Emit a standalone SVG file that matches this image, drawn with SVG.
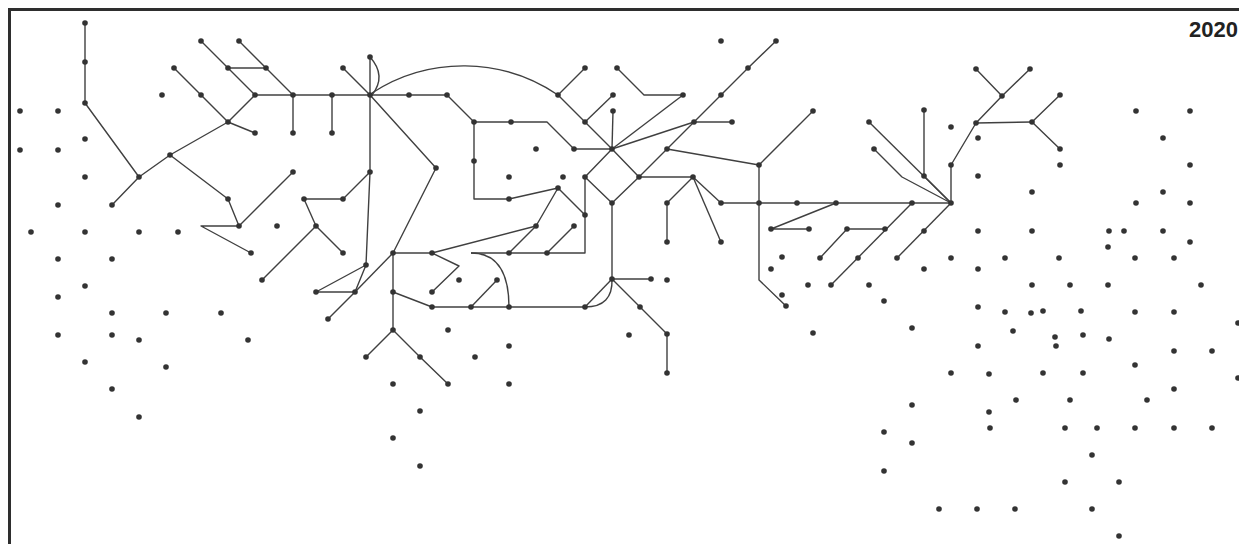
<svg xmlns="http://www.w3.org/2000/svg" width="1239" height="544" viewBox="0 0 1239 544">
<style>
.e{fill:none;stroke:#404040;stroke-width:1.4;stroke-linejoin:round}
.nodes circle{fill:#333}
.frame{fill:none;stroke:#2e2e2e;stroke-width:3}
.yr{font-family:"Liberation Sans",Arial,sans-serif;font-weight:bold;font-size:22px;fill:#222}
</style>
<rect width="1239" height="544" fill="#fff"/>
<path class="frame" d="M9.5,544 V9.5 H1239"/>
<text class="yr" x="1238" y="37" text-anchor="end">2020</text>
<g id="connectors">
<polyline class="e" points="85,23 85,62 85,103 139,177"/>
<polyline class="e" points="112,205 139,177 170,155 228,122"/>
<polyline class="e" points="228,122 201,95 174,68"/>
<polyline class="e" points="228,122 255,133"/>
<polyline class="e" points="228,122 255,95"/>
<polyline class="e" points="201,41 228,68 255,95"/>
<polyline class="e" points="228,68 266,68"/>
<polyline class="e" points="239,41 266,68 293,95"/>
<polyline class="e" points="255,95 293,95 332,95 370,95 409,95 447,95"/>
<polyline class="e" points="293,95 293,133"/>
<polyline class="e" points="332,95 332,133"/>
<polyline class="e" points="170,155 228,199 239,226 293,172"/>
<polyline class="e" points="239,226 201,226 251,253"/>
<polyline class="e" points="304,199 316,226"/>
<polyline class="e" points="304,199 343,199 370,172"/>
<polyline class="e" points="316,226 343,253"/>
<polyline class="e" points="316,226 262,280"/>
<polyline class="e" points="343,68 370,95"/>
<polyline class="e" points="370,57 370,95 370,172 366,265"/>
<path class="e" d="M370,57 Q387,76 372,95"/>
<polyline class="e" points="370,95 436,168 393,253"/>
<path class="e" d="M372,93 A168,168 0 0 1 558,95"/>
<polyline class="e" points="366,265 316,292 355,292 366,265"/>
<polyline class="e" points="355,292 393,253"/>
<polyline class="e" points="355,292 328,319"/>
<polyline class="e" points="447,95 474,122 511,122 547,122 574,149 612,149"/>
<polyline class="e" points="474,122 474,161 474,199 509,199 558,188"/>
<polyline class="e" points="558,188 585,215"/>
<polyline class="e" points="558,188 536,226 432,253"/>
<polyline class="e" points="393,253 432,253"/>
<polyline class="e" points="536,226 509,253"/>
<polyline class="e" points="432,253 459,266 432,292"/>
<polyline class="e" points="471,253 509,253 547,253 585,253 585,177"/>
<polyline class="e" points="547,253 574,226"/>
<path class="e" d="M471,253 Q509,253 509,307"/>
<polyline class="e" points="393,253 393,292 393,330"/>
<polyline class="e" points="393,292 432,307 471,307 509,307 585,307"/>
<polyline class="e" points="471,307 497,280"/>
<polyline class="e" points="585,307 612,279"/>
<path class="e" d="M585,307 Q613,307 612,279"/>
<polyline class="e" points="393,330 366,357"/>
<polyline class="e" points="393,330 420,357 448,384"/>
<polyline class="e" points="585,68 558,95 585,122 612,149"/>
<polyline class="e" points="585,122 613,95"/>
<polyline class="e" points="613,111 612,149"/>
<polyline class="e" points="612,149 639,177 612,203 585,177 612,149"/>
<polyline class="e" points="612,203 612,279 651,279"/>
<polyline class="e" points="612,279 640,307 667,334 667,373"/>
<polyline class="e" points="617,68 644,95 683,95"/>
<polyline class="e" points="612,149 683,95"/>
<polyline class="e" points="612,149 694,122"/>
<polyline class="e" points="776,41 748,68 721,95 694,122 667,149 639,177"/>
<polyline class="e" points="694,122 732,122"/>
<polyline class="e" points="667,149 759,165 813,111"/>
<polyline class="e" points="759,165 759,203 759,280 786,306"/>
<polyline class="e" points="639,177 693,177"/>
<polyline class="e" points="693,177 667,203 667,242"/>
<polyline class="e" points="693,177 721,203"/>
<polyline class="e" points="693,177 721,242"/>
<polyline class="e" points="721,203 951,203"/>
<polyline class="e" points="836,203 771,229 809,229"/>
<polyline class="e" points="912,203 831,285"/>
<polyline class="e" points="820,258 847,229 885,229"/>
<polyline class="e" points="951,203 897,258"/>
<polyline class="e" points="869,122 951,203"/>
<polyline class="e" points="874,149 902,177 951,203"/>
<polyline class="e" points="924,110 924,176 951,203"/>
<polyline class="e" points="951,203 951,165 976,123 1002,96"/>
<polyline class="e" points="976,69 1002,96 1030,69"/>
<polyline class="e" points="976,123 1032,122"/>
<polyline class="e" points="1060,95 1032,122 1060,149"/>
</g>
<g class="nodes">
<g id="n1"><circle cx="85" cy="23" r="2.8"/></g>
<g id="n2"><circle cx="85" cy="62" r="2.8"/></g>
<g id="n3"><circle cx="85" cy="103" r="2.8"/></g>
<g id="n4"><circle cx="20" cy="111" r="2.8"/></g>
<g id="n5"><circle cx="58" cy="111" r="2.8"/></g>
<g id="n6"><circle cx="20" cy="150" r="2.8"/></g>
<g id="n7"><circle cx="58" cy="150" r="2.8"/></g>
<g id="n8"><circle cx="85" cy="139" r="2.8"/></g>
<g id="n9"><circle cx="85" cy="177" r="2.8"/></g>
<g id="n10"><circle cx="139" cy="177" r="2.8"/></g>
<g id="n11"><circle cx="170" cy="155" r="2.8"/></g>
<g id="n12"><circle cx="112" cy="205" r="2.8"/></g>
<g id="n13"><circle cx="58" cy="205" r="2.8"/></g>
<g id="n14"><circle cx="31" cy="232" r="2.8"/></g>
<g id="n15"><circle cx="85" cy="232" r="2.8"/></g>
<g id="n16"><circle cx="139" cy="232" r="2.8"/></g>
<g id="n17"><circle cx="178" cy="232" r="2.8"/></g>
<g id="n18"><circle cx="58" cy="259" r="2.8"/></g>
<g id="n19"><circle cx="112" cy="259" r="2.8"/></g>
<g id="n20"><circle cx="85" cy="286" r="2.8"/></g>
<g id="n21"><circle cx="58" cy="297" r="2.8"/></g>
<g id="n22"><circle cx="112" cy="313" r="2.8"/></g>
<g id="n23"><circle cx="166" cy="313" r="2.8"/></g>
<g id="n24"><circle cx="221" cy="313" r="2.8"/></g>
<g id="n25"><circle cx="58" cy="335" r="2.8"/></g>
<g id="n26"><circle cx="112" cy="335" r="2.8"/></g>
<g id="n27"><circle cx="139" cy="340" r="2.8"/></g>
<g id="n28"><circle cx="248" cy="340" r="2.8"/></g>
<g id="n29"><circle cx="85" cy="362" r="2.8"/></g>
<g id="n30"><circle cx="166" cy="367" r="2.8"/></g>
<g id="n31"><circle cx="112" cy="389" r="2.8"/></g>
<g id="n32"><circle cx="139" cy="417" r="2.8"/></g>
<g id="n33"><circle cx="162" cy="95" r="2.8"/></g>
<g id="n34"><circle cx="174" cy="68" r="2.8"/></g>
<g id="n35"><circle cx="201" cy="95" r="2.8"/></g>
<g id="n36"><circle cx="228" cy="122" r="2.8"/></g>
<g id="n37"><circle cx="255" cy="133" r="2.8"/></g>
<g id="n38"><circle cx="201" cy="41" r="2.8"/></g>
<g id="n39"><circle cx="228" cy="68" r="2.8"/></g>
<g id="n40"><circle cx="266" cy="68" r="2.8"/></g>
<g id="n41"><circle cx="239" cy="41" r="2.8"/></g>
<g id="n42"><circle cx="255" cy="95" r="2.8"/></g>
<g id="n43"><circle cx="293" cy="95" r="2.8"/></g>
<g id="n44"><circle cx="293" cy="133" r="2.8"/></g>
<g id="n45"><circle cx="293" cy="172" r="2.8"/></g>
<g id="n46"><circle cx="228" cy="199" r="2.8"/></g>
<g id="n47"><circle cx="239" cy="226" r="2.8"/></g>
<g id="n48"><circle cx="251" cy="253" r="2.8"/></g>
<g id="n49"><circle cx="277" cy="226" r="2.8"/></g>
<g id="n50"><circle cx="262" cy="280" r="2.8"/></g>
<g id="n51"><circle cx="304" cy="199" r="2.8"/></g>
<g id="n52"><circle cx="316" cy="226" r="2.8"/></g>
<g id="n53"><circle cx="343" cy="253" r="2.8"/></g>
<g id="n54"><circle cx="343" cy="199" r="2.8"/></g>
<g id="n55"><circle cx="370" cy="172" r="2.8"/></g>
<g id="n56"><circle cx="316" cy="292" r="2.8"/></g>
<g id="n57"><circle cx="355" cy="292" r="2.8"/></g>
<g id="n58"><circle cx="366" cy="265" r="2.8"/></g>
<g id="n59"><circle cx="328" cy="319" r="2.8"/></g>
<g id="n60"><circle cx="370" cy="57" r="2.8"/></g>
<g id="n61"><circle cx="343" cy="68" r="2.8"/></g>
<g id="n62"><circle cx="370" cy="95" r="2.8"/></g>
<g id="n63"><circle cx="332" cy="95" r="2.8"/></g>
<g id="n64"><circle cx="332" cy="133" r="2.8"/></g>
<g id="n65"><circle cx="409" cy="95" r="2.8"/></g>
<g id="n66"><circle cx="447" cy="95" r="2.8"/></g>
<g id="n67"><circle cx="474" cy="122" r="2.8"/></g>
<g id="n68"><circle cx="511" cy="122" r="2.8"/></g>
<g id="n69"><circle cx="474" cy="161" r="2.8"/></g>
<g id="n70"><circle cx="436" cy="168" r="2.8"/></g>
<g id="n71"><circle cx="393" cy="253" r="2.8"/></g>
<g id="n72"><circle cx="432" cy="253" r="2.8"/></g>
<g id="n73"><circle cx="432" cy="292" r="2.8"/></g>
<g id="n74"><circle cx="393" cy="292" r="2.8"/></g>
<g id="n75"><circle cx="393" cy="330" r="2.8"/></g>
<g id="n76"><circle cx="366" cy="357" r="2.8"/></g>
<g id="n77"><circle cx="420" cy="357" r="2.8"/></g>
<g id="n78"><circle cx="448" cy="384" r="2.8"/></g>
<g id="n79"><circle cx="432" cy="307" r="2.8"/></g>
<g id="n80"><circle cx="471" cy="307" r="2.8"/></g>
<g id="n81"><circle cx="509" cy="307" r="2.8"/></g>
<g id="n82"><circle cx="585" cy="307" r="2.8"/></g>
<g id="n83"><circle cx="497" cy="280" r="2.8"/></g>
<g id="n84"><circle cx="459" cy="280" r="2.8"/></g>
<g id="n85"><circle cx="509" cy="253" r="2.8"/></g>
<g id="n86"><circle cx="547" cy="253" r="2.8"/></g>
<g id="n87"><circle cx="536" cy="226" r="2.8"/></g>
<g id="n88"><circle cx="574" cy="226" r="2.8"/></g>
<g id="n89"><circle cx="509" cy="199" r="2.8"/></g>
<g id="n90"><circle cx="558" cy="188" r="2.8"/></g>
<g id="n91"><circle cx="585" cy="215" r="2.8"/></g>
<g id="n92"><circle cx="509" cy="177" r="2.8"/></g>
<g id="n93"><circle cx="563" cy="177" r="2.8"/></g>
<g id="n94"><circle cx="536" cy="149" r="2.8"/></g>
<g id="n95"><circle cx="574" cy="149" r="2.8"/></g>
<g id="n96"><circle cx="612" cy="149" r="2.8"/></g>
<g id="n97"><circle cx="585" cy="122" r="2.8"/></g>
<g id="n98"><circle cx="558" cy="95" r="2.8"/></g>
<g id="n99"><circle cx="585" cy="68" r="2.8"/></g>
<g id="n100"><circle cx="613" cy="95" r="2.8"/></g>
<g id="n101"><circle cx="613" cy="111" r="2.8"/></g>
<g id="n102"><circle cx="585" cy="177" r="2.8"/></g>
<g id="n103"><circle cx="639" cy="177" r="2.8"/></g>
<g id="n104"><circle cx="612" cy="203" r="2.8"/></g>
<g id="n105"><circle cx="612" cy="279" r="2.8"/></g>
<g id="n106"><circle cx="651" cy="279" r="2.8"/></g>
<g id="n107"><circle cx="640" cy="307" r="2.8"/></g>
<g id="n108"><circle cx="667" cy="334" r="2.8"/></g>
<g id="n109"><circle cx="667" cy="373" r="2.8"/></g>
<g id="n110"><circle cx="629" cy="335" r="2.8"/></g>
<g id="n111"><circle cx="667" cy="280" r="2.8"/></g>
<g id="n112"><circle cx="448" cy="330" r="2.8"/></g>
<g id="n113"><circle cx="509" cy="346" r="2.8"/></g>
<g id="n114"><circle cx="475" cy="357" r="2.8"/></g>
<g id="n115"><circle cx="393" cy="384" r="2.8"/></g>
<g id="n116"><circle cx="509" cy="384" r="2.8"/></g>
<g id="n117"><circle cx="420" cy="411" r="2.8"/></g>
<g id="n118"><circle cx="393" cy="438" r="2.8"/></g>
<g id="n119"><circle cx="420" cy="466" r="2.8"/></g>
<g id="n120"><circle cx="617" cy="68" r="2.8"/></g>
<g id="n121"><circle cx="683" cy="95" r="2.8"/></g>
<g id="n122"><circle cx="721" cy="41" r="2.8"/></g>
<g id="n123"><circle cx="776" cy="41" r="2.8"/></g>
<g id="n124"><circle cx="748" cy="68" r="2.8"/></g>
<g id="n125"><circle cx="721" cy="95" r="2.8"/></g>
<g id="n126"><circle cx="694" cy="122" r="2.8"/></g>
<g id="n127"><circle cx="732" cy="122" r="2.8"/></g>
<g id="n128"><circle cx="667" cy="149" r="2.8"/></g>
<g id="n129"><circle cx="759" cy="165" r="2.8"/></g>
<g id="n130"><circle cx="813" cy="111" r="2.8"/></g>
<g id="n131"><circle cx="693" cy="177" r="2.8"/></g>
<g id="n132"><circle cx="667" cy="203" r="2.8"/></g>
<g id="n133"><circle cx="667" cy="242" r="2.8"/></g>
<g id="n134"><circle cx="721" cy="203" r="2.8"/></g>
<g id="n135"><circle cx="721" cy="242" r="2.8"/></g>
<g id="n136"><circle cx="759" cy="203" r="2.8"/></g>
<g id="n137"><circle cx="797" cy="203" r="2.8"/></g>
<g id="n138"><circle cx="836" cy="203" r="2.8"/></g>
<g id="n139"><circle cx="912" cy="203" r="2.8"/></g>
<g id="n140"><circle cx="771" cy="229" r="2.8"/></g>
<g id="n141"><circle cx="809" cy="229" r="2.8"/></g>
<g id="n142"><circle cx="847" cy="229" r="2.8"/></g>
<g id="n143"><circle cx="885" cy="229" r="2.8"/></g>
<g id="n144"><circle cx="782" cy="257" r="2.8"/></g>
<g id="n145"><circle cx="820" cy="258" r="2.8"/></g>
<g id="n146"><circle cx="858" cy="258" r="2.8"/></g>
<g id="n147"><circle cx="897" cy="258" r="2.8"/></g>
<g id="n148"><circle cx="771" cy="269" r="2.8"/></g>
<g id="n149"><circle cx="808" cy="285" r="2.8"/></g>
<g id="n150"><circle cx="831" cy="285" r="2.8"/></g>
<g id="n151"><circle cx="869" cy="285" r="2.8"/></g>
<g id="n152"><circle cx="782" cy="295" r="2.8"/></g>
<g id="n153"><circle cx="786" cy="306" r="2.8"/></g>
<g id="n154"><circle cx="884" cy="301" r="2.8"/></g>
<g id="n155"><circle cx="813" cy="333" r="2.8"/></g>
<g id="n156"><circle cx="912" cy="328" r="2.8"/></g>
<g id="n157"><circle cx="912" cy="405" r="2.8"/></g>
<g id="n158"><circle cx="884" cy="432" r="2.8"/></g>
<g id="n159"><circle cx="912" cy="443" r="2.8"/></g>
<g id="n160"><circle cx="884" cy="471" r="2.8"/></g>
<g id="n161"><circle cx="869" cy="122" r="2.8"/></g>
<g id="n162"><circle cx="874" cy="149" r="2.8"/></g>
<g id="n163"><circle cx="951" cy="203" r="2.8"/></g>
<g id="n164"><circle cx="924" cy="110" r="2.8"/></g>
<g id="n165"><circle cx="924" cy="176" r="2.8"/></g>
<g id="n166"><circle cx="951" cy="165" r="2.8"/></g>
<g id="n167"><circle cx="976" cy="123" r="2.8"/></g>
<g id="n168"><circle cx="1002" cy="96" r="2.8"/></g>
<g id="n169"><circle cx="976" cy="69" r="2.8"/></g>
<g id="n170"><circle cx="1030" cy="69" r="2.8"/></g>
<g id="n171"><circle cx="1032" cy="122" r="2.8"/></g>
<g id="n172"><circle cx="1060" cy="95" r="2.8"/></g>
<g id="n173"><circle cx="1060" cy="149" r="2.8"/></g>
<g id="n174"><circle cx="951" cy="127" r="2.8"/></g>
<g id="n175"><circle cx="978" cy="138" r="2.8"/></g>
<g id="n176"><circle cx="1060" cy="165" r="2.8"/></g>
<g id="n177"><circle cx="978" cy="176" r="2.8"/></g>
<g id="n178"><circle cx="1032" cy="192" r="2.8"/></g>
<g id="n179"><circle cx="1136" cy="111" r="2.8"/></g>
<g id="n180"><circle cx="1190" cy="111" r="2.8"/></g>
<g id="n181"><circle cx="1163" cy="138" r="2.8"/></g>
<g id="n182"><circle cx="1190" cy="165" r="2.8"/></g>
<g id="n183"><circle cx="1163" cy="192" r="2.8"/></g>
<g id="n184"><circle cx="1136" cy="203" r="2.8"/></g>
<g id="n185"><circle cx="1190" cy="203" r="2.8"/></g>
<g id="n186"><circle cx="924" cy="231" r="2.8"/></g>
<g id="n187"><circle cx="978" cy="231" r="2.8"/></g>
<g id="n188"><circle cx="1032" cy="231" r="2.8"/></g>
<g id="n189"><circle cx="1109" cy="231" r="2.8"/></g>
<g id="n190"><circle cx="1124" cy="231" r="2.8"/></g>
<g id="n191"><circle cx="1163" cy="231" r="2.8"/></g>
<g id="n192"><circle cx="1108" cy="247" r="2.8"/></g>
<g id="n193"><circle cx="1190" cy="242" r="2.8"/></g>
<g id="n194"><circle cx="951" cy="258" r="2.8"/></g>
<g id="n195"><circle cx="1005" cy="258" r="2.8"/></g>
<g id="n196"><circle cx="1059" cy="258" r="2.8"/></g>
<g id="n197"><circle cx="1135" cy="258" r="2.8"/></g>
<g id="n198"><circle cx="1174" cy="258" r="2.8"/></g>
<g id="n199"><circle cx="924" cy="269" r="2.8"/></g>
<g id="n200"><circle cx="978" cy="269" r="2.8"/></g>
<g id="n201"><circle cx="1032" cy="285" r="2.8"/></g>
<g id="n202"><circle cx="1070" cy="285" r="2.8"/></g>
<g id="n203"><circle cx="1108" cy="285" r="2.8"/></g>
<g id="n204"><circle cx="1201" cy="285" r="2.8"/></g>
<g id="n205"><circle cx="978" cy="307" r="2.8"/></g>
<g id="n206"><circle cx="1005" cy="312" r="2.8"/></g>
<g id="n207"><circle cx="1031" cy="313" r="2.8"/></g>
<g id="n208"><circle cx="1043" cy="311" r="2.8"/></g>
<g id="n209"><circle cx="1081" cy="311" r="2.8"/></g>
<g id="n210"><circle cx="1135" cy="312" r="2.8"/></g>
<g id="n211"><circle cx="1174" cy="312" r="2.8"/></g>
<g id="n212"><circle cx="1238" cy="323" r="2.8"/></g>
<g id="n213"><circle cx="1013" cy="331" r="2.8"/></g>
<g id="n214"><circle cx="1055" cy="337" r="2.8"/></g>
<g id="n215"><circle cx="1083" cy="335" r="2.8"/></g>
<g id="n216"><circle cx="1056" cy="346" r="2.8"/></g>
<g id="n217"><circle cx="1109" cy="339" r="2.8"/></g>
<g id="n218"><circle cx="978" cy="346" r="2.8"/></g>
<g id="n219"><circle cx="1174" cy="351" r="2.8"/></g>
<g id="n220"><circle cx="1212" cy="351" r="2.8"/></g>
<g id="n221"><circle cx="1135" cy="365" r="2.8"/></g>
<g id="n222"><circle cx="951" cy="373" r="2.8"/></g>
<g id="n223"><circle cx="989" cy="374" r="2.8"/></g>
<g id="n224"><circle cx="1043" cy="373" r="2.8"/></g>
<g id="n225"><circle cx="1083" cy="373" r="2.8"/></g>
<g id="n226"><circle cx="1238" cy="378" r="2.8"/></g>
<g id="n227"><circle cx="1174" cy="389" r="2.8"/></g>
<g id="n228"><circle cx="1016" cy="400" r="2.8"/></g>
<g id="n229"><circle cx="1070" cy="400" r="2.8"/></g>
<g id="n230"><circle cx="1147" cy="400" r="2.8"/></g>
<g id="n231"><circle cx="989" cy="412" r="2.8"/></g>
<g id="n232"><circle cx="990" cy="428" r="2.8"/></g>
<g id="n233"><circle cx="1065" cy="428" r="2.8"/></g>
<g id="n234"><circle cx="1097" cy="428" r="2.8"/></g>
<g id="n235"><circle cx="1135" cy="428" r="2.8"/></g>
<g id="n236"><circle cx="1174" cy="428" r="2.8"/></g>
<g id="n237"><circle cx="1212" cy="428" r="2.8"/></g>
<g id="n238"><circle cx="1092" cy="455" r="2.8"/></g>
<g id="n239"><circle cx="1065" cy="482" r="2.8"/></g>
<g id="n240"><circle cx="1119" cy="482" r="2.8"/></g>
<g id="n241"><circle cx="939" cy="509" r="2.8"/></g>
<g id="n242"><circle cx="977" cy="509" r="2.8"/></g>
<g id="n243"><circle cx="1015" cy="509" r="2.8"/></g>
<g id="n244"><circle cx="1092" cy="509" r="2.8"/></g>
<g id="n245"><circle cx="1119" cy="536" r="2.8"/></g>
</g>
</svg>
